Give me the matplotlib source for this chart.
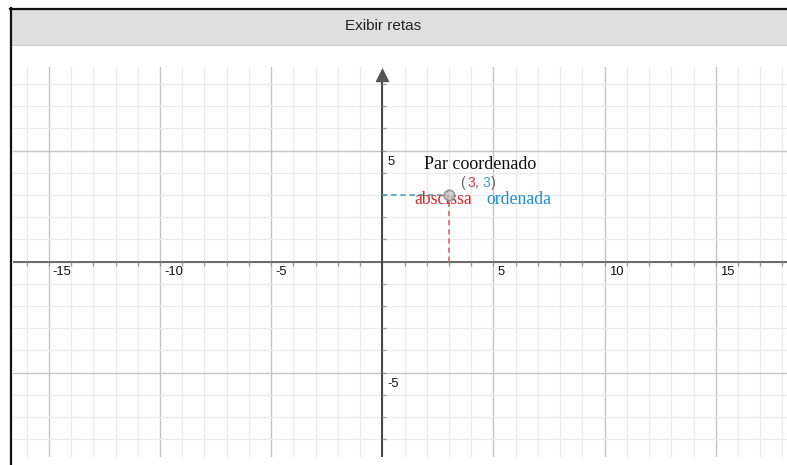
import matplotlib
matplotlib.use("Agg")
import matplotlib.pyplot as plt
from matplotlib.patches import Rectangle
from matplotlib.lines import Line2D
import numpy as np

# ---- data ----
x_tick_values = [-15, -10, -5, 5, 10, 15]
y_tick_values = [5, -5]
point_x = 3
point_y = 3
title_text = "Exibir retas"
pair_label = "Par coordenado"
abscissa_label = "abscissa"
ordinate_label = "ordenada"

W, H = 787, 465
fig = plt.figure(figsize=(W / 100, H / 100), dpi=100)
fig.patch.set_facecolor("white")

def fx(px):
    return px / W

def fy(py):
    return 1 - py / H

# header bar and frame
fig.patches.append(Rectangle((fx(12), fy(45)), fx(787) - fx(12), fy(10) - fy(45),
                             transform=fig.transFigure, facecolor="#e0e0e0",
                             edgecolor="none", zorder=0))
fig.lines.append(Line2D([fx(12), fx(787)], [fy(45.5), fy(45.5)], transform=fig.transFigure,
                        color="#d2d2d2", lw=0.8))
fig.lines.append(Line2D([fx(11), fx(11)], [fy(8), fy(465)], transform=fig.transFigure,
                        color="#111111", lw=1.6))
fig.lines.append(Line2D([fx(10), fx(787)], [fy(9), fy(9)], transform=fig.transFigure,
                        color="#111111", lw=1.6))
fig.text(fx(383), fy(26), title_text, ha="center", va="center", fontsize=11,
         family="Liberation Sans", color="#222222")

# plot area (grid region)
left_px, right_px, top_px, bot_px = 12.5, 787, 67, 457
ax = fig.add_axes([fx(left_px), fy(bot_px), fx(right_px) - fx(left_px), fy(top_px) - fy(bot_px)])
ox, oy, unit_x, unit_y = 382.3, 261.7, 22.23, 22.2
ax.set_xlim((left_px - ox) / unit_x, (right_px - ox) / unit_x)
ax.set_ylim((oy - bot_px) / unit_y, (oy - top_px) / unit_y)
for s in ax.spines.values():
    s.set_visible(False)
ax.set_xticks([])
ax.set_yticks([])
ax.set_facecolor("white")

x0, x1 = ax.get_xlim()
y0, y1 = ax.get_ylim()
for v in range(int(np.ceil(x0)), int(np.floor(x1)) + 1):
    major = v % 5 == 0
    ax.axvline(v, color="#c4c4c4" if major else "#ebebeb", lw=1.0, zorder=1)
for v in range(int(np.ceil(y0)), int(np.floor(y1)) + 1):
    major = v % 5 == 0
    ax.axhline(v, color="#c4c4c4" if major else "#ebebeb", lw=1.0, zorder=1)

# axes
ax.axhline(0, color="#6a6a6a", lw=1.4, zorder=3)
ax.plot([0, 0], [y0, 8.3], color="#444444", lw=1.4, zorder=3, solid_capstyle="butt")
ax.plot([0], [8.43], marker="^", ms=8.0, color="#555555", zorder=4, clip_on=False)

# small ticks on axes
xs = [v for v in range(int(np.ceil(x0)), int(np.floor(x1)) + 1) if v != 0]
ys = [v for v in range(int(np.ceil(y0)), int(np.floor(y1)) + 1) if v != 0]
ax.plot(xs, [0] * len(xs), ls="none", marker=3, ms=3.2, mew=0.9, color="#999999", zorder=3)
ax.plot([0] * len(ys), ys, ls="none", marker=1, ms=3.2, mew=0.9, color="#999999", zorder=3)

# tick labels
for v in x_tick_values:
    ax.annotate(str(v), (v, 0), xytext=(4, -4), textcoords="offset pixels",
                ha="left", va="top", fontsize=9.4, family="Liberation Sans", color="#111111")
for v in y_tick_values:
    ax.annotate(str(v), (0, v), xytext=(5, -5), textcoords="offset pixels",
                ha="left", va="top", fontsize=9.4, family="Liberation Sans", color="#111111")

# dashed projections
ax.plot([0, point_x], [point_y, point_y], ls=(0, (3.5, 2.5)), color="#3d9fbd", lw=1.1, zorder=5)
ax.plot([point_x, point_x], [0, point_y], ls=(0, (3.5, 2.5)), color="#d16262", lw=1.1, zorder=5)

# labels
ax.annotate(pair_label, (point_x, point_y), xytext=(31, 31), textcoords="offset pixels",
            ha="center", va="center", fontsize=13, family="Liberation Serif", color="#111111",
            zorder=7)
ax.annotate(abscissa_label, (point_x, point_y), xytext=(-6, -4), textcoords="offset pixels",
            ha="center", va="center", fontsize=12.8, family="Liberation Serif", color="#d42a2a",
            zorder=7)
ax.annotate(ordinate_label, (point_x, point_y), xytext=(70, -4), textcoords="offset pixels",
            ha="center", va="center", fontsize=12.8, family="Liberation Serif", color="#1f8fd0",
            zorder=7)

# point (drawn over the labels, semi-transparent)
ax.plot([point_x], [point_y], marker="o", ms=7.5, mfc="#c8c8c8", mec="#808080", mew=1.3,
        zorder=8, alpha=0.75)

# "( 3, 3)" with coloured coordinates
pieces = [("(", "#666666", 11), (str(point_x), "#d04040", 18.5), (",", "#666666", 25.5),
          (str(point_y), "#3a9fc0", 33.5), (")", "#666666", 41.5)]
for txt, col, dx in pieces:
    ax.annotate(txt, (point_x, point_y), xytext=(dx, 12), textcoords="offset pixels",
                ha="left", va="center", fontsize=10.2, family="Liberation Sans", color=col,
                zorder=7)

fig.savefig("out.png", dpi=100)
